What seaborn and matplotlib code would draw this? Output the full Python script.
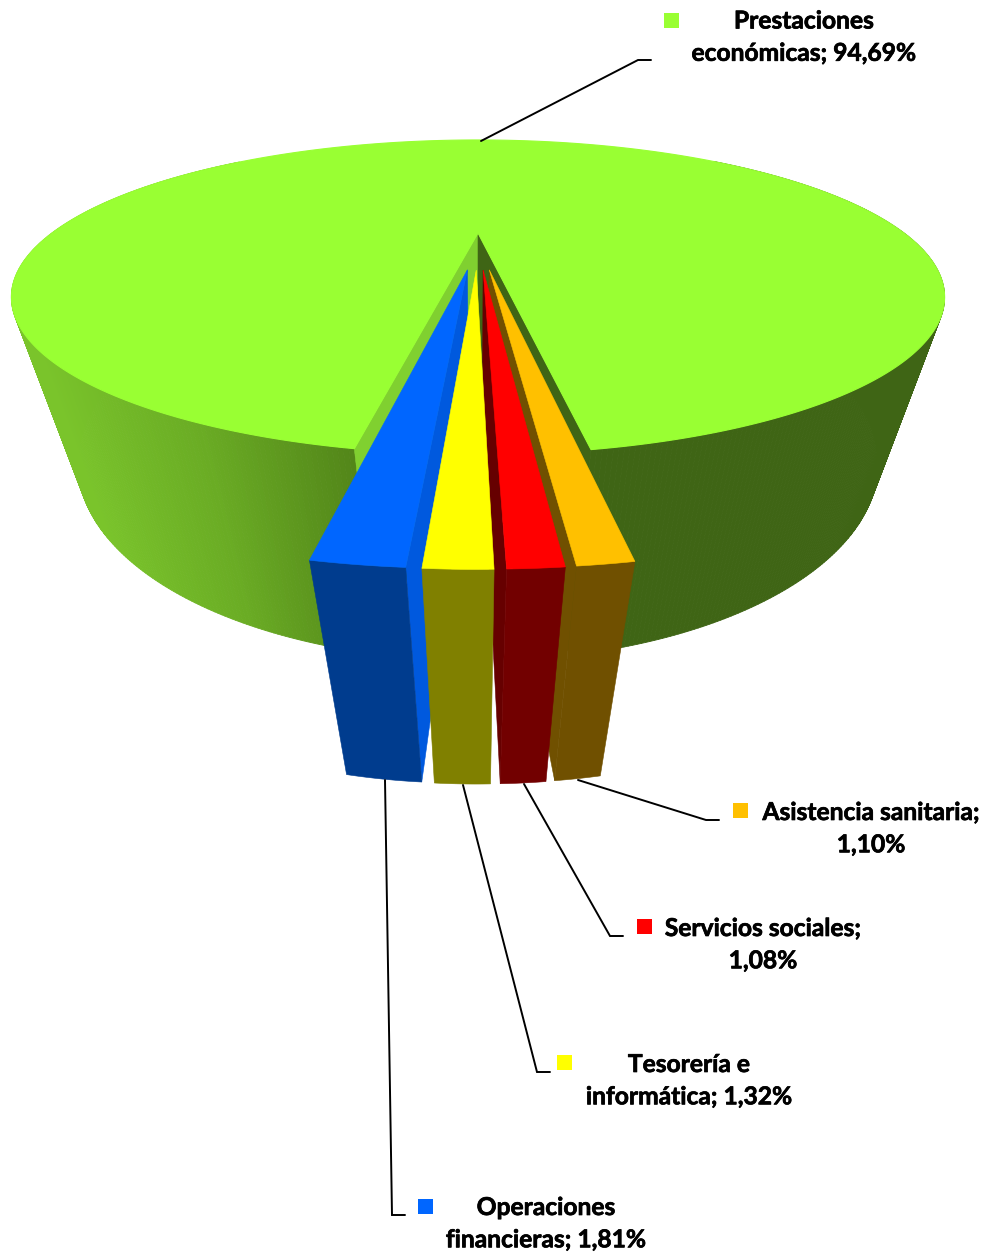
import numpy as np
import matplotlib
matplotlib.use("Agg")
import matplotlib.pyplot as plt
import matplotlib.patheffects as pe
from matplotlib.collections import PolyCollection
from matplotlib.patches import Polygon, Rectangle
import seaborn as sns

# Budget shares, in percent, ordered around the pie from the blue wedge
categories = ["Operaciones financieras", "Tesorería e informática", "Servicios sociales",
              "Asistencia sanitaria", "Prestaciones económicas"]
shares = [1.81, 1.32, 1.08, 1.10, 94.69]
label_lines = [["Operaciones", "financieras; {}%"],
               ["Tesorería e", "informática; {}%"],
               ["Servicios sociales;", "{}%"],
               ["Asistencia sanitaria;", "{}%"],
               ["Prestaciones", "económicas; {}%"]]

top_colors = ["#0066ff", "#ffff00", "#ff0000", "#ffc000", "#99ff33"]
wall_colors = ["#003c8e", "#808000", "#720000", "#705000", "#3f6515"]
cut_colors = ["#0059de", None, "#660000", "#705000"]

# Layout of the annotations, in pixels: label anchors sit on the first baseline
label_anchors = [(546, 1215), (689, 1072), (763, 936), (871, 820), (804, 28.5)]
key_corners = [(418, 1199), (557, 1055), (637, 919), (733, 803), (664, 13)]
leaders = [[(385, 780), (392, 1215), (405, 1215)],
           [(463, 785), (537, 1072), (550, 1072)],
           [(524, 784), (610, 936), (623, 936)],
           [(578, 780), (706, 820), (719, 820)],
           [(481, 141), (638, 60), (651, 60)]]

# Perspective camera of the 3-D pie
CX, CY = 478.0, 233.0
A, B, C = 426.0, 131.0, 182.0
K, M = 0.408, 0.14
EXPLODE = 0.254
SIDE = 0.75
START = -10.0


def project(u, v, d):
    """Map disc coordinates (u, v) at depth d (0 top, 1 base) to pixels."""
    w = 1 - K * v + M * d
    return np.column_stack([CX + A * u / w, CY + (B * v + C * d) / w])


def rim(a0, a1, off=(0.0, 0.0), n=2):
    t = np.radians(np.linspace(a0, a1, n))
    return np.sin(t) + off[0], np.cos(t) + off[1]


def face(points, color):
    ax.add_patch(Polygon(points, fc=color, ec=color, lw=0.4))


sns.set_theme(style="white")
plt.rcParams["font.family"] = ["Lato", "DejaVu Sans"]

fig = plt.figure(figsize=(9.89, 12.54), dpi=100, facecolor="white")
ax = fig.add_axes([0, 0, 1, 1])
ax.set_xlim(0, 989)
ax.set_ylim(1254, 0)
ax.axis("off")

edges = START + np.concatenate([[0], np.cumsum(shares)]) * 3.6

# Large wedge: outer wall shaded strip by strip, then cut faces and top
mu, mv = rim(edges[4], edges[5], n=721)
mtop, mbase = project(mu, mv, 0), project(mu, mv, 1)
ramp = sns.blend_palette(["#7ac42b", "#6aac24", "#528519"], n_colors=256)
notch_x = mtop[-1, 0]
strips, strip_colors = [], []
for i in range(len(mu) - 1):
    if mv[i] < -0.7:
        continue
    x = mtop[i, 0]
    strips.append([mtop[i], mtop[i + 1], mbase[i + 1], mbase[i]])
    if x > CX:
        strip_colors.append(wall_colors[4])
    else:
        t = np.clip((x - 40) / (notch_x - 40), 0, 1)
        strip_colors.append(ramp[int(t * 255)])
ax.add_collection(PolyCollection(strips, facecolors=strip_colors, edgecolors=strip_colors, linewidths=0.6))

hub_top = project(np.array([0.0]), np.array([0.0]), 0)[0]
hub_base = project(np.array([0.0]), np.array([0.0]), 1)[0]
face([hub_top, mtop[-1], mbase[-1], hub_base], "#80d030")
face([hub_top, mtop[0], mbase[0], hub_base], wall_colors[4])
ax.add_patch(Polygon(np.vstack([hub_top, mtop]), fc=top_colors[4], ec=top_colors[4], lw=0.8))

# Exploded wedges, drawn back to front
for i in [0, 3, 2, 1]:
    lo, hi = edges[i], edges[i + 1]
    mid = np.radians((lo + hi) / 2)
    off = (EXPLODE * SIDE * np.sin(mid), EXPLODE * np.cos(mid))
    u, v = rim(lo, hi, off, n=30)
    top, base = project(u, v, 0), project(u, v, 1)
    apex_t = project(np.array([off[0]]), np.array([off[1]]), 0)[0]
    apex_b = project(np.array([off[0]]), np.array([off[1]]), 1)[0]
    if cut_colors[i] is not None:
        j = -1 if i == 0 else 0
        face([apex_t, top[j], base[j], apex_b], cut_colors[i])
    face(np.vstack([top, base[::-1]]), wall_colors[i])
    face(np.vstack([apex_t, top]), top_colors[i])

# Leader lines, colour keys and labels
for pts in leaders:
    ax.plot(*zip(*pts), color="black", lw=1.4, solid_joinstyle="miter")

for corner, col in zip(key_corners, top_colors):
    ax.add_patch(Rectangle(corner, 15, 15, fc=col, ec="none"))

for share, lines, (x, y) in zip(shares, label_lines, label_anchors):
    value = f"{share:.2f}".replace(".", ",")
    for n, line in enumerate(lines):
        ax.text(x, y + n * 32.3, line.format(value), ha="center", va="baseline",
                fontsize=17.7, fontweight="bold", color="black",
                path_effects=[pe.withStroke(linewidth=0.5, foreground="black")])

fig.savefig("out.png", dpi=100)
